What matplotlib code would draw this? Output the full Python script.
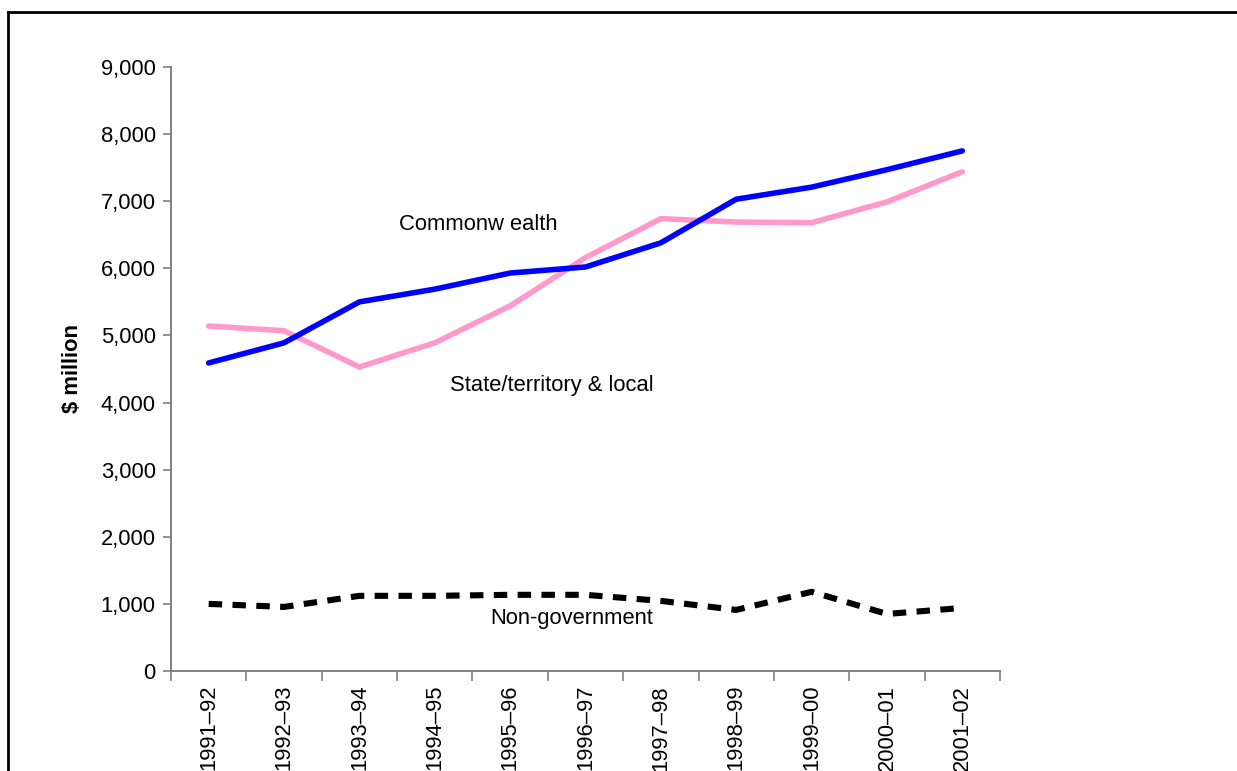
import matplotlib
matplotlib.use("Agg")
import matplotlib.pyplot as plt
from matplotlib.lines import Line2D
import numpy as np

plt.rcParams['font.family'] = ['Liberation Sans', 'DejaVu Sans']

years = ["1991–92", "1992–93", "1993–94", "1994–95", "1995–96", "1996–97",
         "1997–98", "1998–99", "1999–00", "2000–01", "2001–02"]
commonwealth = [4590, 4890, 5500, 5690, 5930, 6020, 6380, 7030, 7210, 7470, 7750]
state_local = [5140, 5070, 4530, 4890, 5440, 6160, 6740, 6690, 6680, 6990, 7440]
non_government = [1000, 955, 1120, 1120, 1135, 1135, 1045, 910, 1180, 850, 940]

W, H = 1237, 771
fig = plt.figure(figsize=(W / 100, H / 100), dpi=100)
ax = fig.add_axes([171 / W, 1 - 671 / H, (1000 - 171) / W, (671 - 67) / H])

x = np.arange(len(years))
ax.plot(x, commonwealth, color="#0000FF", lw=4.0, solid_capstyle="round",
        solid_joinstyle="round", zorder=3)
ax.plot(x, state_local, color="#FF99CC", lw=4.0, solid_capstyle="round",
        solid_joinstyle="round", zorder=2)
ax.plot(x, non_government, color="black", lw=4.4, dashes=(2.2, 1.7),
        dash_capstyle="butt", zorder=3)

ax.set_xlim(-0.5, len(years) - 0.5)
ax.set_ylim(0, 9000)
ax.set_yticks(np.arange(0, 9001, 1000))
ax.set_yticklabels([f"{v:,}" for v in range(0, 9001, 1000)], fontsize=15.8)

# category boundaries carry the tick marks; labels sit at the centres
ax.set_xticks(np.arange(-0.5, len(years), 1.0))
ax.set_xticklabels([])
ax.set_xticks(x, minor=True)
ax.set_xticklabels(years, minor=True, rotation=90, fontsize=15.8)
ax.tick_params(axis="x", which="major", direction="out", length=7,
               color="#808080", width=1.2)
ax.tick_params(axis="x", which="minor", length=0, pad=10)
ax.tick_params(axis="y", direction="out", length=6, color="#808080",
               width=1.2, pad=5)

for side in ("top", "right"):
    ax.spines[side].set_visible(False)
for side in ("left", "bottom"):
    ax.spines[side].set_color("#808080")
    ax.spines[side].set_linewidth(1.4)

fig.text(73 / W, 1 - 368 / H, "$ million", rotation=90, ha="center",
         va="center", fontsize=15.8, fontweight="bold")

ax.text(2.53, 6650, "Commonw ealth", fontsize=15.8, va="center", ha="left")
ax.text(3.2, 4250, "State/territory & local", fontsize=15.8, va="center",
        ha="left")
ax.text(3.73, 780, "Non-government", fontsize=15.8, va="center", ha="left")

# outer frame around the chart area
fig.add_artist(Line2D([8 / W, 1.0], [1 - 12 / H, 1 - 12 / H], color="black",
                      lw=2.0, transform=fig.transFigure))
fig.add_artist(Line2D([8 / W, 8 / W], [1 - 12 / H, 0.0], color="black",
                      lw=2.0, transform=fig.transFigure))

fig.savefig("out.png", dpi=100)
